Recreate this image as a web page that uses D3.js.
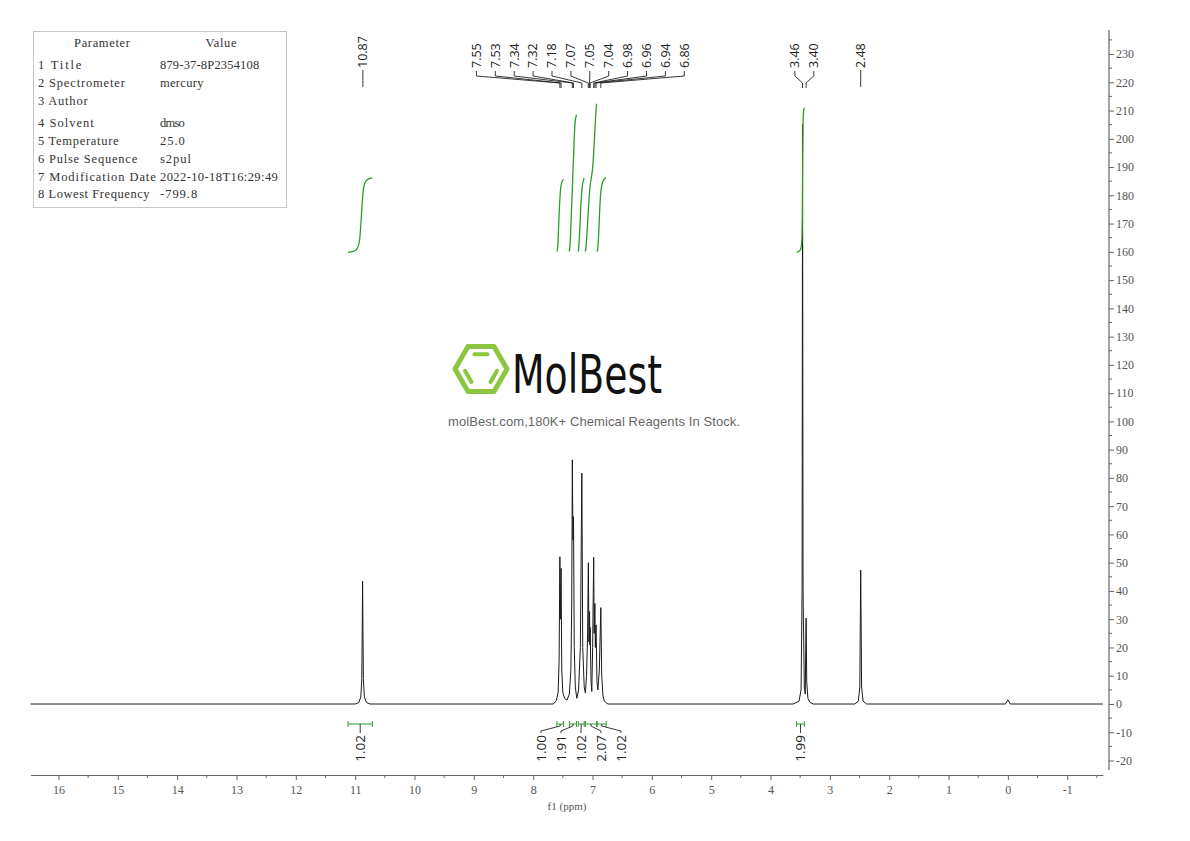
<!DOCTYPE html>
<html>
<head>
<meta charset="utf-8">
<script src="https://cdn.jsdelivr.net/npm/d3@7/dist/d3.min.js"></script>
<style>
  body { margin: 0; background: #fff; }
  svg { display: block; }
</style>
</head>
<body>
<div id="chart"></div>
<script>
// parameter table
const paramNames = ['Title', 'Spectrometer', 'Author', 'Solvent', 'Temperature', 'Pulse Sequence', 'Modification Date', 'Lowest Frequency'];
const paramValues = ['879-37-8P2354108', 'mercury', '', 'dmso', '25.0', 's2pul', '2022-10-18T16:29:49', '-799.8'];

// spectrum trace, [ppm, intensity]
const spectrumPoints = [
    [16.47, 0], [11.0, 0], [10.94, 0.5], [10.905, 2.5], [10.888, 9], [10.875, 43.5], [10.862, 9], [10.845, 2.5], [10.81, 0.5], [10.75, 0],
    [7.66, 0], [7.61, 1.2], [7.58, 4], [7.563, 15], [7.55, 52.1], [7.542, 30], [7.53, 48], [7.518, 12], [7.50, 4], [7.47, 2], [7.43, 1.4],
    [7.39, 3.5], [7.365, 12], [7.35, 35], [7.34, 86.4], [7.33, 58], [7.32, 66.3], [7.308, 20], [7.29, 6], [7.265, 2],
    [7.235, 5], [7.205, 20], [7.18, 81.7], [7.165, 20], [7.14, 6], [7.12, 3.9],
    [7.10, 10], [7.083, 25], [7.07, 50], [7.06, 22], [7.05, 32.7], [7.045, 21], [7.04, 27], [7.025, 8], [7.012, 4.4],
    [6.998, 20], [6.98, 51.9], [6.972, 25], [6.96, 35.6], [6.952, 20], [6.94, 28], [6.925, 8], [6.91, 5],
    [6.885, 12], [6.86, 34.1], [6.845, 10], [6.825, 3], [6.80, 1], [6.74, 0],
    [3.62, 0], [3.52, 1], [3.485, 5], [3.468, 40], [3.46, 205], [3.452, 40], [3.43, 6], [3.415, 3.5],
    [3.41, 12], [3.40, 30.4], [3.39, 8], [3.37, 2], [3.33, 0.5], [3.28, 0],
    [2.58, 0], [2.52, 1], [2.495, 6], [2.48, 47.4], [2.465, 6], [2.44, 1], [2.38, 0],
    [0.04, 0], [0.0, 1.5], [-0.04, 0], [-1.60, 0]
];

// peak labels, grouped as in the picture
const peakLabelGroups = [
    [10.87],
    [7.55, 7.53, 7.34, 7.32, 7.18, 7.07, 7.05, 7.04, 6.98, 6.96, 6.94, 6.86],
    [3.46, 3.40],
    [2.48]
];

// integrals
const integralValues = [1.02, 1.00, 1.91, 1.02, 2.07, 1.02, 1.99];
const integralRanges = [[11.12, 10.71], [7.60, 7.49], [7.39, 7.27], [7.24, 7.14], [7.12, 6.93], [6.92, 6.77], [3.56, 3.43]];
const integralGroups = [[0], [1, 2, 3, 4, 5], [6]];
const integralCurves = [
    [[11.12, 159.8], [10.97, 160.3], [10.92, 163], [10.89, 175], [10.86, 184], [10.80, 185.8], [10.71, 186.1]],
    [[7.60, 160.1], [7.585, 161], [7.57, 170], [7.545, 181.5], [7.525, 184.5], [7.49, 185.7]],
    [[7.39, 160.1], [7.375, 162.5], [7.34, 182], [7.305, 203], [7.29, 207], [7.27, 208.5]],
    [[7.24, 160.1], [7.225, 162], [7.195, 178], [7.17, 184.5], [7.14, 186.1]],
    [[7.12, 160.1], [7.10, 163], [7.055, 181.5], [7.025, 186], [6.995, 188.5], [6.96, 203], [6.945, 209.5], [6.93, 212.4]],
    [[6.92, 160.1], [6.90, 163], [6.875, 178], [6.85, 184], [6.80, 186], [6.77, 186.2]],
    [[3.56, 159.8], [3.49, 160.3], [3.468, 163], [3.462, 175], [3.458, 195], [3.452, 207], [3.44, 210.5], [3.43, 211]]
];

// axis ticks
const xTickValues = [16, 15, 14, 13, 12, 11, 10, 9, 8, 7, 6, 5, 4, 3, 2, 1, 0, -1];
const yTickValues = [230, 220, 210, 200, 190, 180, 170, 160, 150, 140, 130, 120, 110, 100, 90, 80, 70, 60, 50, 40, 30, 20, 10, 0, -10, -20];

const nmrChart = (() => {
    const width = 1190;
    const height = 841;
    const serif = '"Liberation Serif", "DejaVu Serif", serif';
    const sans = '"Open Sans", "Liberation Sans", sans-serif';
    const axisColor = '#666';
    const green = '#2f9a2f';

    const x = d3.scaleLinear().domain([16.47, -1.60]).range([30.6, 1102.8]);
    const y = d3.scaleLinear().domain([0, 230]).range([704, 54]);

    const svg = d3.select('#chart').append('svg')
        .attr('width', width)
        .attr('height', height);

    const drawParamTable = () => {
        const g = svg.append('g');
        const charW = 6.2;
        const rowY = i => 65 + i * 17.7 + (i >= 3 ? 5 : 0);

        g.append('rect')
            .attr('x', 33.5).attr('y', 31.5)
            .attr('width', 253).attr('height', 176)
            .attr('fill', '#fff')
            .attr('stroke', '#c8c8c8');

        const addText = (txt, tx, ty, anchor) => {
            if (!txt) return;
            g.append('text')
                .attr('x', tx).attr('y', ty)
                .attr('dy', '0.35em')
                .attr('text-anchor', anchor)
                .attr('font-family', serif)
                .attr('font-size', 12.5)
                .attr('fill', '#333')
                .attr('textLength', txt.length * charW)
                .attr('lengthAdjust', 'spacing')
                .text(txt);
        };

        addText('Parameter', 102, 43, 'middle');
        addText('Value', 221, 43, 'middle');
        paramNames.forEach((name, i) => {
            addText(`${i + 1} ${name}`, 38, rowY(i), 'start');
            addText(paramValues[i], 160, rowY(i), 'start');
        });
    };

    const drawWatermark = () => {
        const g = svg.append('g');
        const cx = 481, cy = 369, R = 26, r = 17;
        const lime = '#8cc63f';
        const vertex = (rad, k) => [cx + rad * Math.cos(k * Math.PI / 3), cy + rad * Math.sin(k * Math.PI / 3)];

        g.append('path')
            .attr('d', d3.line()(d3.range(6).map(k => vertex(R, k))) + 'Z')
            .attr('fill', 'none')
            .attr('stroke', lime)
            .attr('stroke-width', 5)
            .attr('stroke-linejoin', 'round');

        // inner bars: top, lower-left, lower-right
        [[4, 5], [2, 3], [0, 1]].forEach(([a, b]) => {
            const p = vertex(r, a), q = vertex(r, b);
            const t = 0.12;
            g.append('line')
                .attr('x1', p[0] + (q[0] - p[0]) * t).attr('y1', p[1] + (q[1] - p[1]) * t)
                .attr('x2', q[0] - (q[0] - p[0]) * t).attr('y2', q[1] - (q[1] - p[1]) * t)
                .attr('stroke', lime)
                .attr('stroke-width', 4)
                .attr('stroke-linecap', 'round');
        });

        g.append('text')
            .attr('x', 512).attr('y', 393)
            .attr('font-family', '"DejaVu Sans", sans-serif')
            .attr('font-size', 54)
            .attr('textLength', 150)
            .attr('lengthAdjust', 'spacingAndGlyphs')
            .attr('fill', '#111')
            .text('MolBest');

        g.append('text')
            .attr('x', 594).attr('y', 421)
            .attr('dy', '0.35em')
            .attr('text-anchor', 'middle')
            .attr('font-family', '"Liberation Sans", Arial, sans-serif')
            .attr('font-size', 13)
            .attr('textLength', 292)
            .attr('fill', '#666')
            .text('molBest.com,180K+ Chemical Reagents In Stock.');
    };

    const drawAxes = () => {
        // bottom ppm axis
        const gx = svg.append('g')
            .attr('transform', 'translate(0,775)')
            .call(d3.axisBottom(x)
                .tickValues(xTickValues)
                .tickSize(5)
                .tickSizeOuter(0)
                .tickPadding(5)
                .tickFormat(d => `${d}`));
        gx.select('.domain').attr('stroke', axisColor);
        gx.selectAll('.tick line').attr('stroke', axisColor);
        gx.selectAll('.tick text')
            .attr('font-family', serif)
            .attr('font-size', 12)
            .attr('fill', '#555');

        gx.selectAll('.minor')
            .data(d3.range(15.5, -1.6, -1))
            .enter().append('line')
            .attr('class', 'minor')
            .attr('x1', d => x(d)).attr('x2', d => x(d))
            .attr('y1', 0).attr('y2', 3)
            .attr('stroke', axisColor);

        svg.append('text')
            .attr('x', 567).attr('y', 806)
            .attr('dy', '0.35em')
            .attr('text-anchor', 'middle')
            .attr('font-family', serif)
            .attr('font-size', 11)
            .attr('fill', '#555')
            .text('f1 (ppm)');

        // right intensity axis
        const gy = svg.append('g')
            .attr('transform', 'translate(1109,0)')
            .call(d3.axisRight(y)
                .tickValues(yTickValues)
                .tickSize(5)
                .tickSizeOuter(0)
                .tickPadding(2)
                .tickFormat(d => `${d}`));
        gy.select('.domain').remove();
        gy.append('line')
            .attr('x1', 0).attr('x2', 0)
            .attr('y1', 30).attr('y2', 770)
            .attr('stroke', axisColor)
            .attr('stroke-width', 1.2);
        gy.selectAll('.tick line').attr('stroke', axisColor);
        gy.selectAll('.tick text')
            .attr('font-family', serif)
            .attr('font-size', 12)
            .attr('fill', '#555');

        gy.selectAll('.minor')
            .data(d3.range(-15, 240, 10))
            .enter().append('line')
            .attr('class', 'minor')
            .attr('x1', 0).attr('x2', 3)
            .attr('y1', d => y(d)).attr('y2', d => y(d))
            .attr('stroke', axisColor);
    };

    const drawSpectrum = () => {
        const line = d3.line()
            .x(d => x(d[0]))
            .y(d => y(d[1]));

        svg.append('path')
            .datum(spectrumPoints)
            .attr('d', line)
            .attr('fill', 'none')
            .attr('stroke', '#1a1a1a')
            .attr('stroke-width', 1)
            .attr('stroke-linejoin', 'round');
    };

    const drawIntegrals = () => {
        const g = svg.append('g');
        const curve = d3.line()
            .x(d => x(d[0]))
            .y(d => y(d[1]))
            .curve(d3.curveBasis);

        g.selectAll('.int-curve')
            .data(integralCurves)
            .enter().append('path')
            .attr('class', 'int-curve')
            .attr('d', curve)
            .attr('fill', 'none')
            .attr('stroke', green)
            .attr('stroke-width', 1.3);

        const bracketY = 724;
        const labelTop = 734;
        const spacing = 20;

        integralRanges.forEach(([a, b]) => {
            const x0 = x(a), x1 = x(b);
            g.append('path')
                .attr('d', `M${x0},${bracketY - 3}V${bracketY + 3}M${x0},${bracketY}H${x1}M${x1},${bracketY - 3}V${bracketY + 3}`)
                .attr('fill', 'none')
                .attr('stroke', green)
                .attr('stroke-width', 1);
        });

        integralGroups.forEach(group => {
            const centers = group.map(i => (x(integralRanges[i][0]) + x(integralRanges[i][1])) / 2);
            const mid = (d3.min(centers) + d3.max(centers)) / 2;
            group.forEach((idx, k) => {
                const cx = centers[k];
                const lx = group.length === 1 ? cx : mid + (k - (group.length - 1) / 2) * spacing;
                const d = group.length === 1
                    ? `M${cx},${bracketY}V${labelTop - 1}`
                    : `M${cx},${bracketY}V${bracketY + 2}L${lx},${labelTop - 3}V${labelTop - 1}`;
                g.append('path')
                    .attr('d', d)
                    .attr('fill', 'none')
                    .attr('stroke', '#222')
                    .attr('stroke-width', 0.9);
                g.append('text')
                    .attr('transform', `translate(${lx},${labelTop + 1}) rotate(-90)`)
                    .attr('text-anchor', 'end')
                    .attr('dy', '0.35em')
                    .attr('font-family', sans)
                    .attr('font-size', 13.5)
                    .attr('fill', '#222')
                    .text(integralValues[idx].toFixed(2));
            });
        });
    };

    const drawPeakLabels = () => {
        const g = svg.append('g');
        const textBottom = 68;
        const spacing = 18.9;

        peakLabelGroups.forEach(group => {
            const px = group.map(p => x(p));
            const mid = (d3.min(px) + d3.max(px)) / 2;
            group.forEach((ppm, k) => {
                const lx = group.length === 1 ? px[k] : mid + (k - (group.length - 1) / 2) * spacing;
                const d = group.length === 1
                    ? `M${lx},${textBottom + 2}V87`
                    : `M${lx},${textBottom + 3}V76L${px[k]},83V88`;
                g.append('path')
                    .attr('d', d)
                    .attr('fill', 'none')
                    .attr('stroke', '#222')
                    .attr('stroke-width', 0.9);
                g.append('text')
                    .attr('transform', `translate(${lx},${textBottom}) rotate(-90)`)
                    .attr('text-anchor', 'start')
                    .attr('dy', '0.35em')
                    .attr('font-family', sans)
                    .attr('font-size', 12.5)
                    .attr('fill', '#222')
                    .text(ppm.toFixed(2));
            });
        });
    };

    const init = () => {
        drawParamTable();
        drawWatermark();
        drawAxes();
        drawSpectrum();
        drawIntegrals();
        drawPeakLabels();
    };

    return { init };
})();

nmrChart.init();
</script>
</body>
</html>
